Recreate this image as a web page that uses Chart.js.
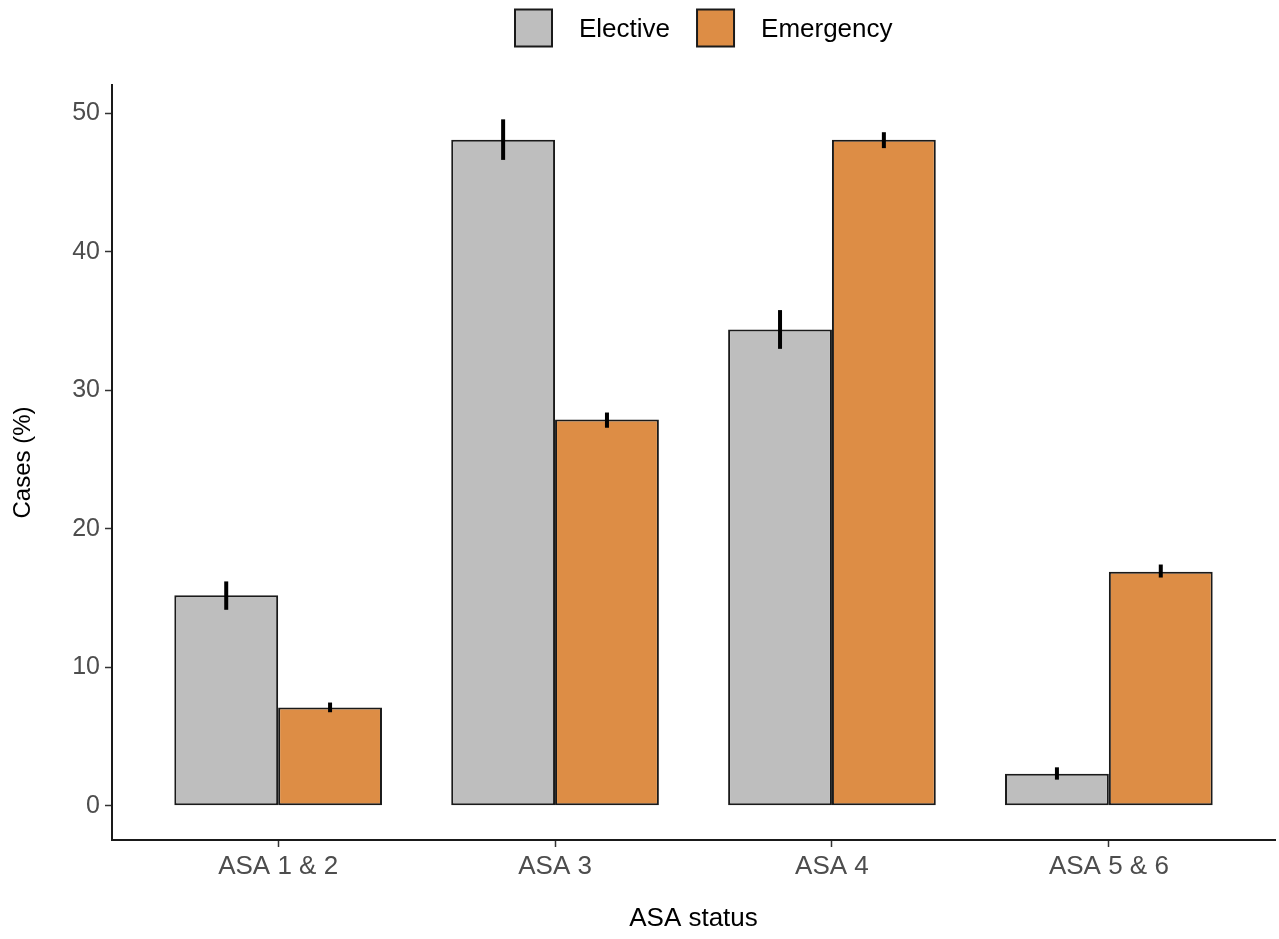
<!DOCTYPE html>
<html>
<head>
<meta charset="utf-8">
<script src="https://cdn.jsdelivr.net/npm/chart.js@4/dist/chart.umd.min.js"></script>
<style>
  html, body { margin: 0; padding: 0; background: #ffffff; }
  #wrap { width: 1279px; height: 939px; }
</style>
</head>
<body>
<div id="wrap"><canvas id="chart" width="1279" height="939"></canvas></div>
<script>
// ASA physical status groups
const categories = ['ASA 1 & 2', 'ASA 3', 'ASA 4', 'ASA 5 & 6'];

// Share of cases (%) with 95% CI bounds
const electiveValues = [15.2, 48.1, 34.4, 2.3];
const electiveLow    = [14.15, 46.65, 33.0, 1.88];
const electiveHigh   = [16.2, 49.58, 35.8, 2.77];

const emergencyValues = [7.1, 27.9, 48.1, 16.9];
const emergencyLow    = [6.75, 27.3, 47.5, 16.48];
const emergencyHigh   = [7.45, 28.4, 48.65, 17.42];

const yTicks = [0, 10, 20, 30, 40, 50];

const FONT = "'Liberation Sans', Arial, Helvetica, sans-serif";

function points(values) {
  return values.map((v, i) => ({ x: i + 1, y: v }));
}

const series = [
  { label: 'Elective',  values: electiveValues,  low: electiveLow,  high: electiveHigh,  color: '#bebebe' },
  { label: 'Emergency', values: emergencyValues, low: emergencyLow, high: emergencyHigh, color: '#dd8d45' }
];

// Vertical interval lines on top of each bar
const errorBars = {
  id: 'errorBars',
  afterDatasetsDraw(chart) {
    const ctx = chart.ctx;
    const yScale = chart.scales.y;
    ctx.save();
    ctx.strokeStyle = '#000000';
    ctx.lineWidth = 4;
    ctx.lineCap = 'butt';
    chart.data.datasets.forEach((ds, di) => {
      const meta = chart.getDatasetMeta(di);
      meta.data.forEach((bar, i) => {
        const top = yScale.getPixelForValue(ds.errHigh[i]);
        const bottom = yScale.getPixelForValue(ds.errLow[i]);
        ctx.beginPath();
        ctx.moveTo(bar.x, top);
        ctx.lineTo(bar.x, bottom);
        ctx.stroke();
      });
    });
    ctx.restore();
  }
};

// Key above the panel: filled squares with outline, label to the right
const topKey = {
  id: 'topKey',
  afterDraw(chart) {
    const ctx = chart.ctx;
    const box = 37;
    const gapText = 27;
    const gapItem = 27;
    const cy = 28;
    ctx.save();
    ctx.font = '26px ' + FONT;
    ctx.textBaseline = 'middle';
    ctx.textAlign = 'left';
    let x = 515;
    chart.data.datasets.forEach((ds) => {
      ctx.fillStyle = ds.backgroundColor;
      ctx.fillRect(x, cy - box / 2, box, box);
      ctx.strokeStyle = '#1a1a1a';
      ctx.lineWidth = 2;
      ctx.strokeRect(x, cy - box / 2, box, box);
      x += box + gapText;
      ctx.fillStyle = '#000000';
      ctx.fillText(ds.label, x, cy + 2);
      x += ctx.measureText(ds.label).width + gapItem;
    });
    ctx.restore();
  }
};

new Chart(document.getElementById('chart'), {
  type: 'bar',
  data: {
    datasets: series.map(s => ({
      label: s.label,
      data: points(s.values),
      errLow: s.low,
      errHigh: s.high,
      backgroundColor: s.color,
      borderColor: '#1a1a1a',
      borderWidth: 2,
      borderSkipped: false,
      categoryPercentage: 0.75,
      barPercentage: 1.0
    }))
  },
  options: {
    responsive: false,
    animation: false,
    devicePixelRatio: 1,
    layout: { padding: { top: 85, right: 4, left: 0, bottom: 0 } },
    plugins: {
      legend: { display: false },
      tooltip: { enabled: false }
    },
    scales: {
      x: {
        type: 'linear',
        min: 0.4,
        max: 4.6,
        offset: false,
        afterBuildTicks(scale) {
          scale.ticks = categories.map((_, i) => ({ value: i + 1 }));
        },
        afterFit(scale) { scale.height = 99; },
        ticks: {
          autoSkip: false,
          maxRotation: 0,
          padding: 4,
          color: '#4d4d4d',
          font: { family: FONT, size: 26 },
          callback: (v) => categories[v - 1]
        },
        grid: {
          offset: false,
          drawOnChartArea: false,
          drawTicks: true,
          tickLength: 7,
          tickWidth: 1.5,
          tickColor: '#333333'
        },
        border: { display: true, color: '#1a1a1a', width: 2 },
        title: {
          display: true,
          text: 'ASA status',
          color: '#000000',
          font: { family: FONT, size: 26 },
          padding: { top: 0, bottom: 5 }
        }
      },
      y: {
        min: -2.48,
        max: 52.06,
        afterBuildTicks(scale) {
          scale.ticks = yTicks.map(v => ({ value: v }));
        },
        afterFit(scale) { scale.width = 112; },
        ticks: {
          padding: 5,
          color: '#4d4d4d',
          font: { family: FONT, size: 25 }
        },
        grid: {
          drawOnChartArea: false,
          drawTicks: true,
          tickLength: 7,
          tickWidth: 1.5,
          tickColor: '#333333'
        },
        border: { display: true, color: '#1a1a1a', width: 2 },
        title: {
          display: true,
          text: 'Cases (%)',
          color: '#000000',
          font: { family: FONT, size: 24 },
          padding: { top: 9, bottom: 0 }
        }
      }
    }
  },
  plugins: [errorBars, topKey]
});
</script>
</body>
</html>
